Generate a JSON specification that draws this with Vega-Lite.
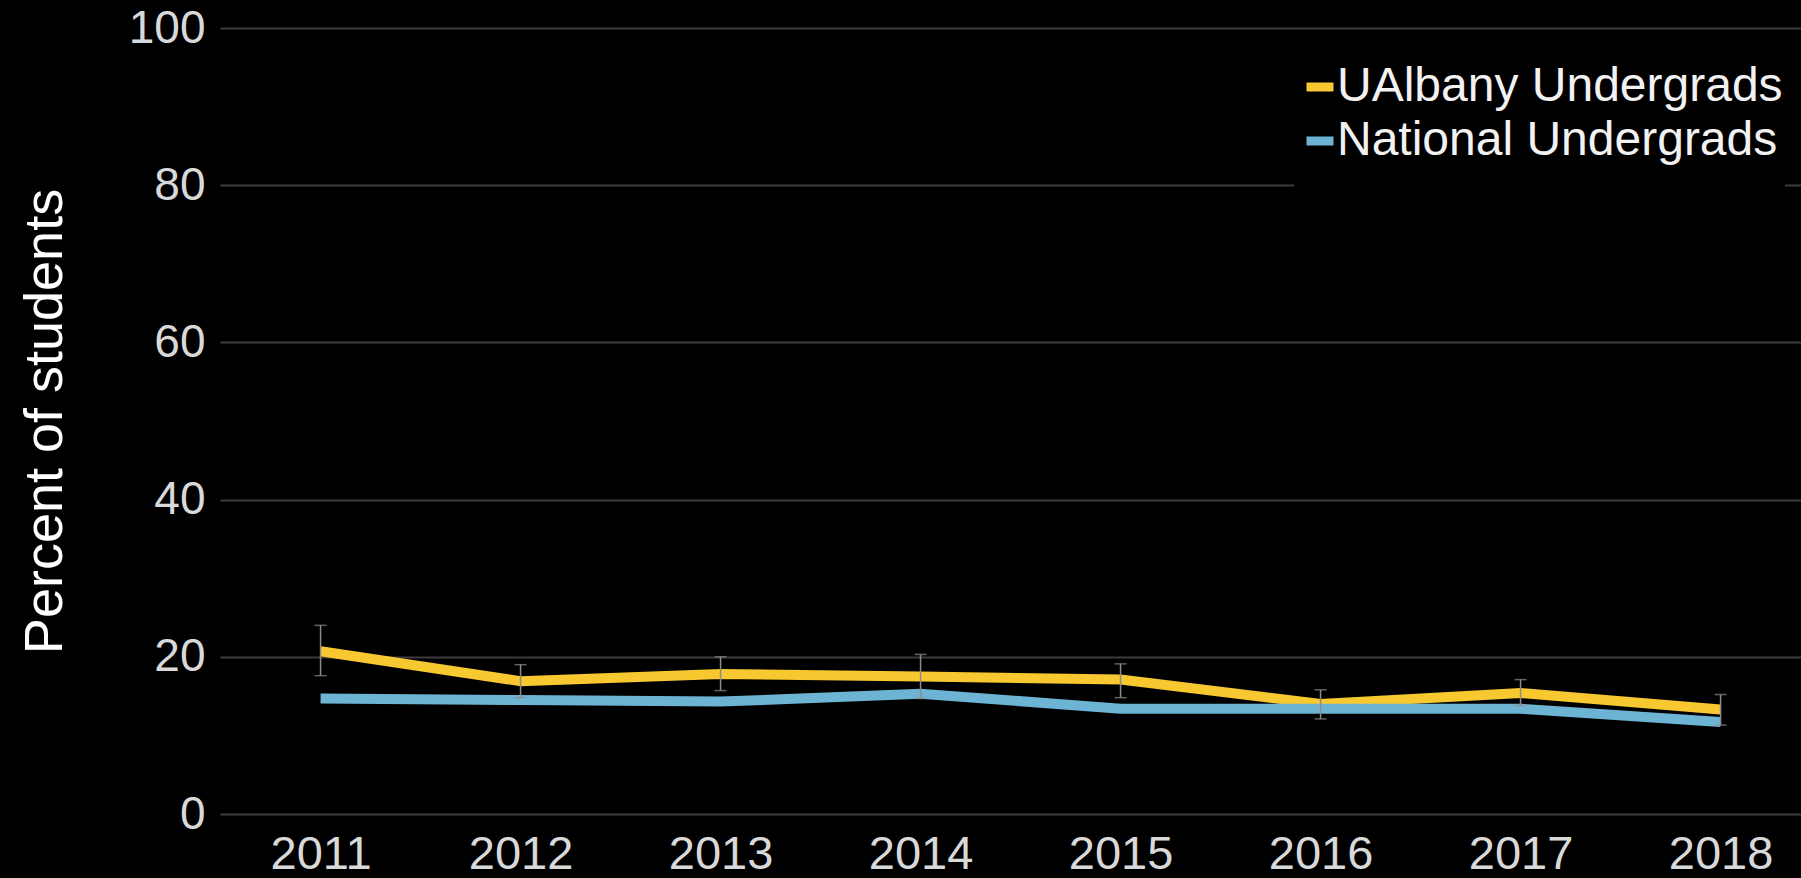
{
  "$schema": "https://vega.github.io/schema/vega-lite/v6.json",
  "width": 1581,
  "height": 786,
  "autosize": "none",
  "padding": {"left": 220, "top": 28, "right": 0, "bottom": 64},
  "background": "#000000",
  "config": {
    "view": {"stroke": null},
    "font": "Liberation Sans"
  },
  "data": {
    "values": [
      {"year": "2011", "group": "UAlbany Undergrads", "pct": 20.7, "lo": 17.6, "hi": 24.0},
      {"year": "2012", "group": "UAlbany Undergrads", "pct": 16.9, "lo": 14.8, "hi": 19.0},
      {"year": "2013", "group": "UAlbany Undergrads", "pct": 17.8, "lo": 15.7, "hi": 20.0},
      {"year": "2014", "group": "UAlbany Undergrads", "pct": 17.5, "lo": 14.7, "hi": 20.3},
      {"year": "2015", "group": "UAlbany Undergrads", "pct": 17.1, "lo": 14.8, "hi": 19.1},
      {"year": "2016", "group": "UAlbany Undergrads", "pct": 14.0, "lo": 12.1, "hi": 15.8},
      {"year": "2017", "group": "UAlbany Undergrads", "pct": 15.4, "lo": 13.8, "hi": 17.1},
      {"year": "2018", "group": "UAlbany Undergrads", "pct": 13.3, "lo": 11.3, "hi": 15.2},
      {"year": "2011", "group": "National Undergrads", "pct": 14.7},
      {"year": "2012", "group": "National Undergrads", "pct": 14.5},
      {"year": "2013", "group": "National Undergrads", "pct": 14.3},
      {"year": "2014", "group": "National Undergrads", "pct": 15.3},
      {"year": "2015", "group": "National Undergrads", "pct": 13.4},
      {"year": "2016", "group": "National Undergrads", "pct": 13.4},
      {"year": "2017", "group": "National Undergrads", "pct": 13.4},
      {"year": "2018", "group": "National Undergrads", "pct": 11.7}
    ]
  },
  "encoding": {
    "x": {
      "field": "year",
      "type": "ordinal",
      "scale": {"type": "point", "padding": 0.4525, "align": 0.5556},
      "axis": {
        "title": null,
        "domain": false,
        "ticks": false,
        "tickSize": 0,
        "grid": false,
        "labelAngle": 0,
        "labelFontSize": 47,
        "labelColor": "#d9d9d9",
        "labelPadding": 17,
        "labelFont": "Liberation Sans"
      }
    }
  },
  "layer": [
    {
      "mark": {"type": "line", "strokeWidth": 10, "strokeCap": "butt", "strokeJoin": "miter"},
      "encoding": {
        "y": {
          "field": "pct",
          "type": "quantitative",
          "scale": {"domain": [0, 100], "nice": false},
          "axis": {
            "title": "Percent of students",
            "titleFontSize": 54,
            "titleFontWeight": "normal",
            "titleColor": "#ffffff",
            "titlePadding": 56,
            "titleFont": "Liberation Sans",
            "values": [0, 20, 40, 60, 80, 100],
            "domain": false,
            "ticks": false,
            "tickSize": 0,
            "grid": true,
            "gridColor": "#3d3d3d",
            "gridWidth": 2,
            "labelFontSize": 46,
            "labelColor": "#d9d9d9",
            "labelPadding": 15,
            "labelFont": "Liberation Sans"
          }
        },
        "color": {
          "field": "group",
          "type": "nominal",
          "scale": {
            "domain": ["UAlbany Undergrads", "National Undergrads"],
            "range": ["#f7c82f", "#6db3d4"]
          },
          "legend": {
            "orient": "none",
            "legendX": 1074,
            "legendY": 33,
            "title": " ",
            "titleOrient": "bottom",
            "titleFontSize": 22,
            "titlePadding": 0,
            "padding": 2,
            "fillColor": "#000000",
            "strokeColor": null,
            "symbolType": "stroke",
            "symbolSize": 729,
            "symbolStrokeWidth": 9,
            "labelFontSize": 48,
            "labelColor": "#f2f2f2",
            "labelOffset": -7,
            "labelFont": "Liberation Sans",
            "labelLimit": 600,
            "rowPadding": 6
          }
        }
      }
    },
    {
      "transform": [{"filter": "datum.lo != null"}],
      "mark": {"type": "rule", "color": "#8c8c8c", "strokeWidth": 1.5},
      "encoding": {
        "y": {"field": "lo", "type": "quantitative"},
        "y2": {"field": "hi"}
      }
    },
    {
      "transform": [{"filter": "datum.lo != null"}],
      "mark": {"type": "tick", "color": "#8c8c8c", "size": 12, "thickness": 1.5, "orient": "horizontal"},
      "encoding": {
        "y": {"field": "lo", "type": "quantitative"}
      }
    },
    {
      "transform": [{"filter": "datum.lo != null"}],
      "mark": {"type": "tick", "color": "#8c8c8c", "size": 12, "thickness": 1.5, "orient": "horizontal"},
      "encoding": {
        "y": {"field": "hi", "type": "quantitative"}
      }
    }
  ]
}
